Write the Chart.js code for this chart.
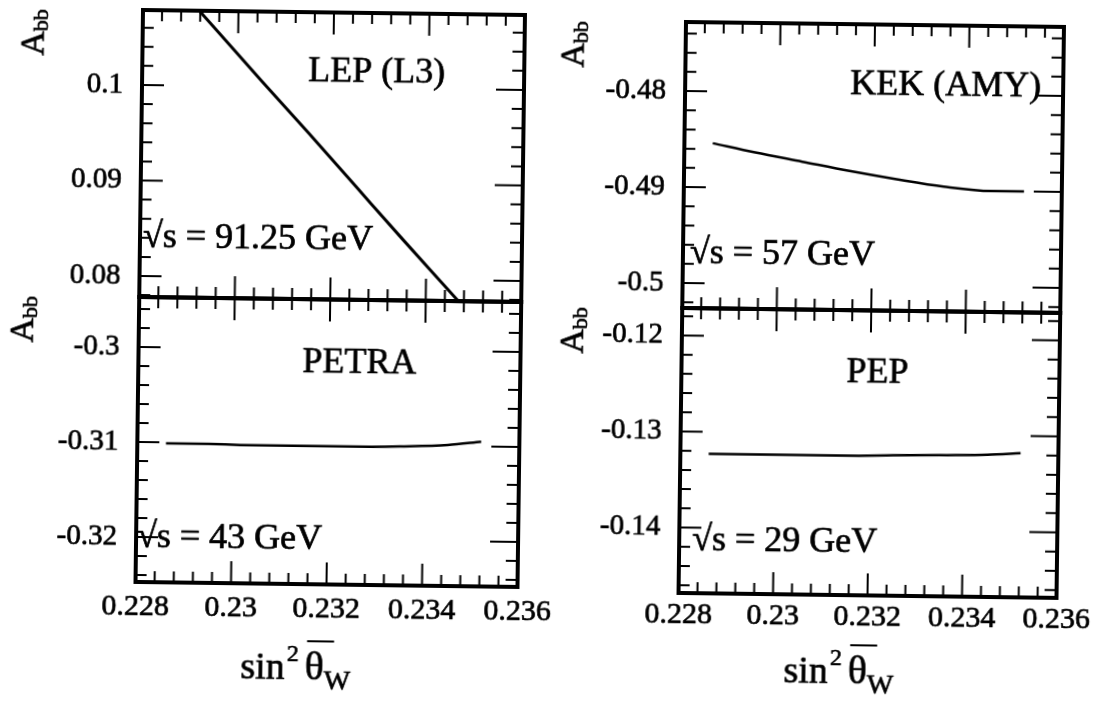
<!DOCTYPE html>
<html>
<head>
<meta charset="utf-8">
<title>A_bb vs sin²θW</title>
<script src="https://cdn.jsdelivr.net/npm/chart.js@4.4.1/dist/chart.umd.min.js"></script>
<style>
  html, body { margin: 0; padding: 0; background: #fff; }
  body { width: 1095px; height: 703px; position: relative; overflow: hidden; }
  .col { position: absolute; transform: rotate(0.75deg); transform-origin: 0 0; }
  .col canvas { position: absolute; }
</style>
</head>
<body>
<div class="col" id="colL" style="left:143px; top:10px;">
  <canvas id="lep" width="562" height="302" style="left:-140px; top:-10px;"></canvas>
  <canvas id="petra" width="562" height="443" style="left:-140px; top:257px;"></canvas>
</div>
<div class="col" id="colR" style="left:686px; top:22px;">
  <canvas id="kek" width="558" height="301" style="left:-140px; top:-10px;"></canvas>
  <canvas id="pep" width="558" height="440" style="left:-140px; top:256px;"></canvas>
</div>

<script>
// sin^2(theta_W) sample points shared by all four curves
const sinW   = [0.2286, 0.2295, 0.2305, 0.2315, 0.2325, 0.2335, 0.2345, 0.2352];
// A_bb at each sqrt(s)
const lepA   = [0.1110, 0.1061, 0.1006, 0.0952, 0.0897, 0.0842, 0.0788, 0.0750];
const petraA = [-0.3101, -0.3101, -0.3102, -0.3102, -0.3102, -0.3101, -0.3099, -0.3095];
const kekA   = [-0.4854, -0.4863, -0.4872, -0.4881, -0.4889, -0.4896, -0.4900, -0.4900];
const pepA   = [-0.1323, -0.1323, -0.1323, -0.1323, -0.1322, -0.1321, -0.1320, -0.1318];

// axis ticks and ranges
const xTicks     = [0.228, 0.23, 0.232, 0.234, 0.236];
const lepTicks   = [0.08, 0.09, 0.1];
const petraTicks = [-0.32, -0.31, -0.3];
const kekTicks   = [-0.5, -0.49, -0.48];
const pepTicks   = [-0.14, -0.13, -0.12];
const lepRange   = [0.0778, 0.10785];
const petraRange = [-0.32474, -0.29474];
const kekRange   = [-0.5026, -0.47281];
const pepRange   = [-0.14682, -0.11714];

const FONT = "'Liberation Serif', 'Times New Roman', serif";
const INK = 0.7;   // slight stroke so the serif text reads a bit heavier
Chart.defaults.font.family = FONT;
Chart.defaults.color = '#000';

const fmt = v => String(+Number(v).toFixed(4));

// walk minor tick values between min and max, flag every n-th as major
function eachStep(min, max, step, every, fn) {
    const k0 = Math.ceil(min / step - 1e-6), k1 = Math.floor(max / step + 1e-6);
    for (let k = k0; k <= k1; k++) fn(k * step, k % every === 0);
}

function text(ctx, s, x, y) {
    ctx.fillText(s, x, y);
    ctx.strokeText(s, x, y);
}

// boxed frame with inward ticks on all four sides, plus panel texts
const frameTicks = {
    id: 'frameTicks',
    afterDraw(chart, args, o) {
        const {ctx, chartArea: a, scales: {x, y}} = chart;
        ctx.save();
        ctx.strokeStyle = '#000';
        ctx.lineWidth = 2;
        ctx.beginPath();
        eachStep(x.min, x.max, 0.0004, 5, (v, major) => {
            const px = x.getPixelForValue(v);
            const len = major ? 22 : 11;
            ctx.moveTo(px, a.top);    ctx.lineTo(px, a.top + len);
            ctx.moveTo(px, a.bottom); ctx.lineTo(px, a.bottom - len);
        });
        eachStep(y.min, y.max, 0.002, 5, (v, major) => {
            const py = y.getPixelForValue(v);
            ctx.moveTo(a.left, py);  ctx.lineTo(a.left + (major ? 22 : 11), py);
            ctx.moveTo(a.right, py); ctx.lineTo(a.right - (major ? 28 : 12), py);
        });
        ctx.stroke();
        ctx.lineWidth = 4;
        ctx.strokeRect(a.left, a.top, a.right - a.left, a.bottom - a.top);

        ctx.fillStyle = '#000';
        ctx.lineWidth = INK;
        ctx.textAlign = 'left';
        ctx.textBaseline = 'alphabetic';
        ctx.font = '36px ' + FONT;
        text(ctx, o.name, a.left + o.namePos[0], a.top + o.namePos[1]);
        text(ctx, o.energy, a.left + o.energyPos[0], a.top + o.energyPos[1]);

        // A_bb, rotated
        ctx.save();
        ctx.translate(a.left + o.yTitleX, a.top + 47);
        ctx.rotate(-Math.PI / 2);
        ctx.font = '34px ' + FONT;
        text(ctx, 'A', 0, 0);
        const wA = ctx.measureText('A').width;
        ctx.font = '22px ' + FONT;
        text(ctx, 'bb', wA, 4);
        ctx.restore();

        // sin^2 theta_W under the bottom panels
        if (o.xTitle) {
            let tx = a.left + o.xTitle[0];
            const ty = a.bottom + o.xTitle[1];
            ctx.font = '38px ' + FONT;
            text(ctx, 'sin', tx, ty);
            tx += ctx.measureText('sin').width + 2;
            ctx.font = '24px ' + FONT;
            text(ctx, '2', tx, ty - 18);
            tx += ctx.measureText('2').width + 6;
            ctx.font = '40px ' + FONT;
            text(ctx, 'θ', tx, ty);
            ctx.lineWidth = 2;
            ctx.beginPath();
            ctx.moveTo(tx + 2, ty - 38);
            ctx.lineTo(tx + 29, ty - 38);
            ctx.stroke();
            ctx.lineWidth = INK;
            tx += ctx.measureText('θ').width;
            ctx.font = '28px ' + FONT;
            text(ctx, 'W', tx, ty + 10);
        }
        ctx.restore();
    }
};

function panel(id, p) {
    return new Chart(document.getElementById(id), {
        type: 'line',
        data: {
            datasets: [{
                data: sinW.map((x, i) => ({x: x, y: p.values[i]})),
                borderColor: '#000',
                borderWidth: p.lineWidth,
                pointRadius: 0,
                cubicInterpolationMode: 'monotone',
                fill: false
            }]
        },
        options: {
            responsive: false,
            animation: false,
            events: [],
            layout: { padding: p.padding },
            scales: {
                x: {
                    type: 'linear',
                    min: xTicks[0],
                    max: xTicks[xTicks.length - 1],
                    grid: { display: false, drawTicks: false },
                    border: { display: false },
                    ticks: {
                        display: p.showX,
                        autoSkip: false,
                        maxRotation: 0,
                        padding: p.xPad || 0,
                        font: { size: 30 },
                        textStrokeColor: '#000',
                        textStrokeWidth: INK,
                        callback: fmt
                    },
                    afterBuildTicks: s => { s.ticks = xTicks.map(v => ({value: v})); },
                    afterFit: s => { s.height = p.xHeight; s.paddingLeft = 0; s.paddingRight = 0; }
                },
                y: {
                    type: 'linear',
                    min: p.range[0],
                    max: p.range[1],
                    grid: { display: false, drawTicks: false },
                    border: { display: false },
                    ticks: {
                        autoSkip: false,
                        padding: 19,
                        font: { size: 29 },
                        textStrokeColor: '#000',
                        textStrokeWidth: INK,
                        callback: fmt
                    },
                    afterBuildTicks: s => { s.ticks = p.ticks.map(v => ({value: v})); },
                    afterFit: s => { s.width = 140; s.paddingTop = 0; s.paddingBottom = 0; }
                }
            },
            plugins: {
                legend: { display: false },
                tooltip: { enabled: false },
                frameTicks: p.text
            }
        },
        plugins: [frameTicks]
    });
}

panel('lep', {
    values: lepA, range: lepRange, ticks: lepTicks, lineWidth: 3,
    padding: { left: 0, top: 10, right: 40, bottom: 5 }, showX: false, xHeight: 0,
    text: { name: 'LEP (L3)', namePos: [166, 69], energy: '√s = 91.25 GeV', energyPos: [3, 237], yTitleX: -99 }
});
panel('petra', {
    values: petraA, range: petraRange, ticks: petraTicks, lineWidth: 2.5,
    padding: { left: 0, top: 30, right: 40, bottom: 0 }, showX: true, xHeight: 128, xPad: 7,
    text: { name: 'PETRA', namePos: [164, 73], energy: '√s = 43 GeV', energyPos: [1, 250], yTitleX: -106, xTitle: [106, 95] }
});
panel('kek', {
    values: kekA, range: kekRange, ticks: kekTicks, lineWidth: 2.5,
    padding: { left: 0, top: 10, right: 40, bottom: 5 }, showX: false, xHeight: 0,
    text: { name: 'KEK (AMY)', namePos: [165, 70], energy: '√s = 57 GeV', energyPos: [7, 241], yTitleX: -102 }
});
panel('pep', {
    values: pepA, range: pepRange, ticks: pepTicks, lineWidth: 2.5,
    padding: { left: 0, top: 30, right: 40, bottom: 0 }, showX: true, xHeight: 125, xPad: 4,
    text: { name: 'PEP', namePos: [165, 72], energy: '√s = 29 GeV', energyPos: [13, 242], yTitleX: -99, xTitle: [106, 88] }
});
</script>
</body>
</html>
